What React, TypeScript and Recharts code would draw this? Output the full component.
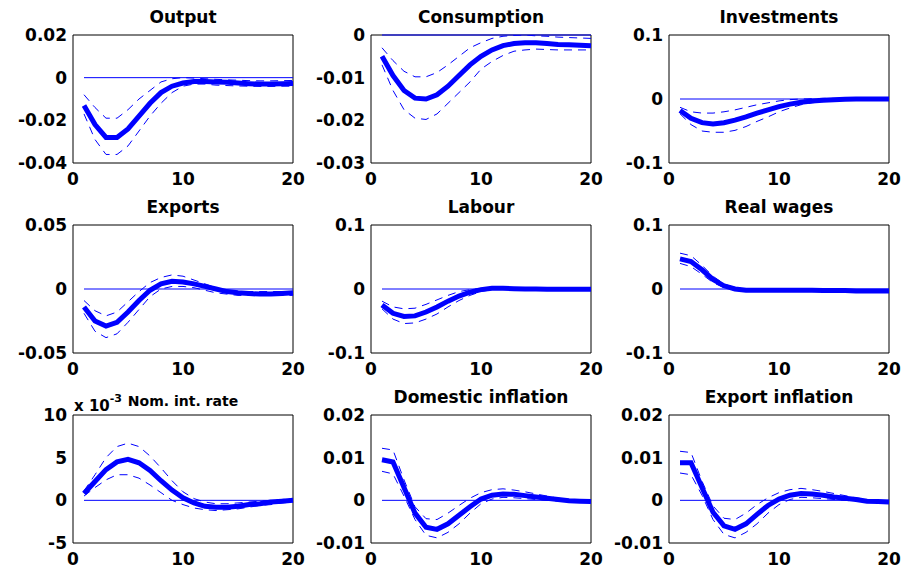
import React from 'react';
import { LineChart, Line, XAxis, YAxis, ReferenceLine, ReferenceArea } from 'recharts';

const periods = [1, 2, 3, 4, 5, 6, 7, 8, 9, 10, 11, 12, 13, 14, 15, 16, 17, 18, 19, 20];
const xTicks = [0, 10, 20];

const outputMid = [-0.013, -0.022, -0.028, -0.028, -0.024, -0.018, -0.012, -0.007, -0.004, -0.0025, -0.0018, -0.0018, -0.002, -0.0022, -0.0025, -0.0028, -0.003, -0.003, -0.0028, -0.0027];
const outputHi = [-0.008, -0.014, -0.019, -0.019, -0.015, -0.01, -0.006, -0.002, -0.0005, 0, -0.0002, -0.0005, -0.0008, -0.001, -0.0012, -0.0014, -0.0015, -0.0015, -0.0014, -0.0013];
const outputLo = [-0.017, -0.029, -0.036, -0.036, -0.032, -0.025, -0.018, -0.012, -0.007, -0.004, -0.003, -0.003, -0.0035, -0.0037, -0.0039, -0.004, -0.0041, -0.0041, -0.004, -0.004];

const consMid = [-0.005, -0.0095, -0.013, -0.0148, -0.015, -0.014, -0.012, -0.0095, -0.007, -0.005, -0.0035, -0.0025, -0.002, -0.0018, -0.0018, -0.002, -0.0022, -0.0023, -0.0024, -0.0025];
const consHi = [-0.003, -0.006, -0.0085, -0.0098, -0.0098, -0.0088, -0.007, -0.005, -0.003, -0.0018, -0.0008, -0.0003, -0.0001, 0, -0.0002, -0.0003, -0.0005, -0.0006, -0.0007, -0.0008];
const consLo = [-0.007, -0.013, -0.0175, -0.0195, -0.0198, -0.0185, -0.016, -0.0135, -0.011, -0.008, -0.0062, -0.0048, -0.0038, -0.0035, -0.0033, -0.0034, -0.0035, -0.0035, -0.0035, -0.0035];

const invMid = [-0.018, -0.03, -0.037, -0.039, -0.037, -0.033, -0.028, -0.022, -0.017, -0.012, -0.008, -0.005, -0.003, -0.002, -0.001, -0.0005, 0, 0, 0, 0];
const invHi = [-0.013, -0.02, -0.022, -0.022, -0.02, -0.017, -0.013, -0.009, -0.006, -0.003, -0.001, 0, 0.0005, 0.001, 0.001, 0.001, 0.001, 0.001, 0.001, 0.001];
const invLo = [-0.023, -0.04, -0.05, -0.052, -0.052, -0.049, -0.043, -0.035, -0.028, -0.02, -0.014, -0.009, -0.006, -0.004, -0.002, -0.0015, -0.001, -0.001, -0.001, -0.001];

const expMid = [-0.014, -0.025, -0.029, -0.026, -0.018, -0.009, -0.001, 0.004, 0.006, 0.0055, 0.004, 0.002, 0, -0.002, -0.003, -0.0035, -0.004, -0.004, -0.0035, -0.003];
const expHi = [-0.009, -0.017, -0.021, -0.018, -0.01, -0.002, 0.005, 0.009, 0.011, 0.01, 0.007, 0.004, 0.001, -0.001, -0.002, -0.002, -0.002, -0.002, -0.002, -0.002];
const expLo = [-0.019, -0.033, -0.038, -0.035, -0.026, -0.016, -0.006, 0, 0.002, 0.002, 0.001, -0.001, -0.003, -0.004, -0.005, -0.005, -0.005, -0.005, -0.005, -0.005];

const labMid = [-0.025, -0.038, -0.043, -0.042, -0.036, -0.028, -0.019, -0.011, -0.005, -0.001, 0.001, 0.001, 0.0005, 0, 0, -0.0005, -0.0005, -0.0005, -0.0005, -0.0005];
const labHi = [-0.019, -0.028, -0.031, -0.03, -0.024, -0.017, -0.01, -0.004, -0.001, 0.001, 0.002, 0.002, 0.0015, 0.001, 0.001, 0.0005, 0.0005, 0.0005, 0.0005, 0.0005];
const labLo = [-0.031, -0.047, -0.054, -0.053, -0.047, -0.039, -0.028, -0.018, -0.01, -0.004, -0.001, 0, -0.0005, -0.001, -0.001, -0.0015, -0.0015, -0.0015, -0.0015, -0.0015];

const wageMid = [0.047, 0.043, 0.03, 0.015, 0.005, 0, -0.002, -0.002, -0.002, -0.002, -0.002, -0.002, -0.002, -0.0025, -0.0025, -0.0025, -0.003, -0.003, -0.003, -0.003];
const wageHi = [0.056, 0.052, 0.037, 0.02, 0.008, 0.002, 0, 0, -0.0005, -0.0005, -0.0005, -0.0005, -0.001, -0.001, -0.001, -0.001, -0.0015, -0.0015, -0.0015, -0.0015];
const wageLo = [0.04, 0.035, 0.023, 0.01, 0.002, -0.002, -0.003, -0.0035, -0.0035, -0.0035, -0.0035, -0.0035, -0.0035, -0.004, -0.004, -0.004, -0.004, -0.0045, -0.0045, -0.0045];

// nominal rate in units of 10^-3
const rateMid = [0.8, 2.2, 3.6, 4.5, 4.8, 4.4, 3.5, 2.3, 1.2, 0.3, -0.3, -0.7, -0.8, -0.8, -0.7, -0.5, -0.4, -0.2, -0.1, 0];
const rateHi = [1.1, 3.0, 5.0, 6.3, 6.7, 6.3, 5.2, 3.8, 2.3, 1.0, 0.2, -0.2, -0.4, -0.4, -0.3, -0.2, -0.1, 0, 0.1, 0.2];
const rateLo = [0.5, 1.5, 2.4, 3.0, 3.0, 2.6, 1.8, 0.9, 0, -0.5, -0.9, -1.1, -1.2, -1.1, -1.0, -0.8, -0.6, -0.5, -0.3, -0.2];

const domMid = [0.0095, 0.009, 0.003, -0.003, -0.0063, -0.0068, -0.0055, -0.0035, -0.0015, 0.0003, 0.0012, 0.0015, 0.0014, 0.0011, 0.0008, 0.0005, 0.0002, -0.0001, -0.0002, -0.0003];
const domHi = [0.0122, 0.0118, 0.0048, -0.0015, -0.0043, -0.0045, -0.003, -0.0012, 0.0005, 0.0018, 0.0025, 0.0027, 0.0024, 0.002, 0.0015, 0.001, 0.0005, 0.0002, 0, -0.0001];
const domLo = [0.0068, 0.0062, 0.001, -0.0045, -0.0082, -0.0088, -0.0075, -0.0055, -0.003, -0.0008, 0.0003, 0.0007, 0.0006, 0.0004, 0.0002, 0, -0.0002, -0.0003, -0.0004, -0.0004];

const xinfMid = [0.0088, 0.0088, 0.003, -0.0028, -0.006, -0.0068, -0.0055, -0.0033, -0.0012, 0.0003, 0.0012, 0.0016, 0.0015, 0.0012, 0.0008, 0.0005, 0.0002, -0.0002, -0.0003, -0.0004];
const xinfHi = [0.0115, 0.0112, 0.0045, -0.0013, -0.0042, -0.0045, -0.003, -0.001, 0.0006, 0.0018, 0.0025, 0.0028, 0.0025, 0.0021, 0.0016, 0.0011, 0.0006, 0.0002, 0, -0.0001];
const xinfLo = [0.0064, 0.006, 0.0012, -0.0045, -0.008, -0.0088, -0.0075, -0.0055, -0.003, -0.001, 0.0002, 0.0007, 0.0006, 0.0004, 0.0002, 0, -0.0002, -0.0003, -0.0004, -0.0005];

const colX = [73, 371, 669];
const rowY = [35, 225, 415];
const plotW = 220;
const plotH = 128;
const font = 'DejaVu Sans, sans-serif';
const blue = '#0000ff';

const panels = [
  { title: 'Output', row: 0, col: 0, domain: [-0.04, 0.02], ticks: [-0.04, -0.02, 0, 0.02], mid: outputMid, hi: outputHi, lo: outputLo },
  { title: 'Consumption', row: 0, col: 1, domain: [-0.03, 0], ticks: [-0.03, -0.02, -0.01, 0], mid: consMid, hi: consHi, lo: consLo },
  { title: 'Investments', row: 0, col: 2, domain: [-0.1, 0.1], ticks: [-0.1, 0, 0.1], mid: invMid, hi: invHi, lo: invLo },
  { title: 'Exports', row: 1, col: 0, domain: [-0.05, 0.05], ticks: [-0.05, 0, 0.05], mid: expMid, hi: expHi, lo: expLo },
  { title: 'Labour', row: 1, col: 1, domain: [-0.1, 0.1], ticks: [-0.1, 0, 0.1], mid: labMid, hi: labHi, lo: labLo },
  { title: 'Real wages', row: 1, col: 2, domain: [-0.1, 0.1], ticks: [-0.1, 0, 0.1], mid: wageMid, hi: wageHi, lo: wageLo },
  { title: 'Nom. int. rate', row: 2, col: 0, domain: [-5, 10], ticks: [-5, 0, 5, 10], mid: rateMid, hi: rateHi, lo: rateLo, small: true },
  { title: 'Domestic inflation', row: 2, col: 1, domain: [-0.01, 0.02], ticks: [-0.01, 0, 0.01, 0.02], mid: domMid, hi: domHi, lo: domLo },
  { title: 'Export inflation', row: 2, col: 2, domain: [-0.01, 0.02], ticks: [-0.01, 0, 0.01, 0.02], mid: xinfMid, hi: xinfHi, lo: xinfLo },
];

const tickStyle = { fill: '#000', fontSize: 17, fontWeight: 'bold', fontFamily: font };

function Panel({ p }: { p: any }) {
  const x0 = colX[p.col];
  const y0 = rowY[p.row];
  const data = periods.map((x, i) => ({ x, mid: p.mid[i], hi: p.hi[i], lo: p.lo[i] }));
  return (
    <>
      <div
        style={{
          position: 'absolute',
          left: x0 - 20,
          width: plotW + 40,
          top: p.small ? y0 - 24 : y0 - 28,
          height: 20,
          lineHeight: '20px',
          textAlign: 'center',
          fontFamily: font,
          fontWeight: 'bold',
          fontSize: p.small ? 14 : 17,
          color: '#000',
          whiteSpace: 'nowrap',
        }}
      >
        {p.title}
      </div>
      <div style={{ position: 'absolute', left: x0 - 70, top: y0 - 30 }}>
        <LineChart
          width={70 + plotW + 24}
          height={30 + plotH + 30}
          data={data}
          margin={{ top: 30, right: 24, left: 0, bottom: 0 }}
        >
          <XAxis
            dataKey='x'
            type='number'
            domain={[0, 20]}
            ticks={xTicks}
            axisLine={false}
            tickLine={false}
            tickSize={0}
            tickMargin={10}
            height={30}
            tick={tickStyle}
            interval={0}
          />
          <YAxis
            type='number'
            domain={p.domain}
            ticks={p.ticks}
            axisLine={false}
            tickLine={false}
            tickSize={0}
            tickMargin={6}
            width={70}
            tick={tickStyle}
            interval={0}
            allowDataOverflow
            tickFormatter={(v: number) => String(v)}
          />
          <ReferenceArea x1={0} x2={20} y1={p.domain[0]} y2={p.domain[1]} fill='none' fillOpacity={0} stroke='#000' strokeWidth={1} />
          <ReferenceLine segment={[{ x: 1, y: 0 }, { x: 20, y: 0 }]} stroke={blue} strokeWidth={1} />
          <Line type='linear' dataKey='hi' stroke={blue} strokeWidth={1} strokeDasharray='8 6' dot={false} isAnimationActive={false} />
          <Line type='linear' dataKey='lo' stroke={blue} strokeWidth={1} strokeDasharray='8 6' dot={false} isAnimationActive={false} />
          <Line type='linear' dataKey='mid' stroke={blue} strokeWidth={5} dot={false} isAnimationActive={false} />
        </LineChart>
      </div>
    </>
  );
}

export default function App() {
  return (
    <div style={{ position: 'absolute', left: 0, top: 0, width: 906, height: 569, background: '#fff', overflow: 'hidden' }}>
      {panels.map((p) => (
        <Panel key={p.title} p={p} />
      ))}
      <div style={{ position: 'absolute', left: 74, top: 397, fontFamily: font, fontWeight: 'bold', fontSize: 15, color: '#000', whiteSpace: 'nowrap' }}>
        x 10<sup style={{ fontSize: 11, verticalAlign: 'top', position: 'relative', top: -5 }}>-3</sup>
      </div>
    </div>
  );
}
